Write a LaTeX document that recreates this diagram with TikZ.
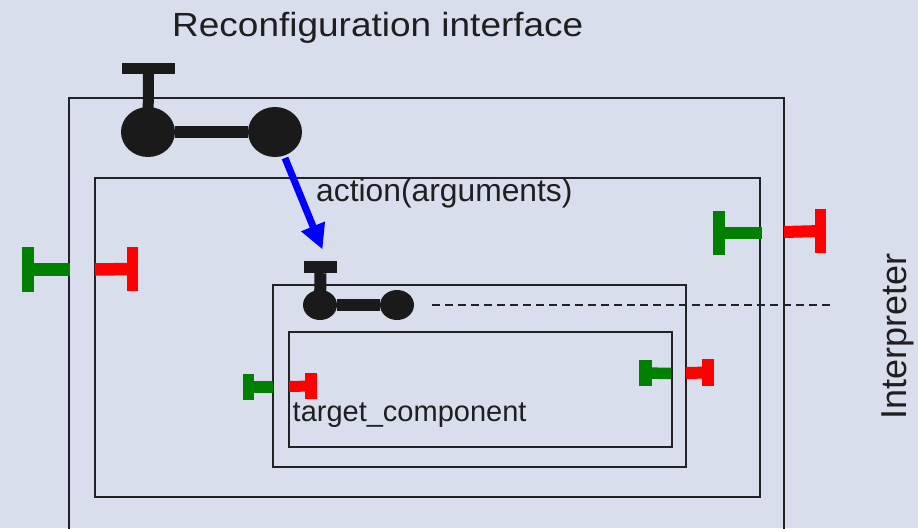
\documentclass[tikz,border=0pt]{standalone}
\usepackage{fontspec}
\setmainfont{Liberation Sans}
\usetikzlibrary{shapes.geometric,arrows.meta}

\definecolor{bgcol}{RGB}{217,222,237}
\definecolor{framecol}{RGB}{34,34,38}
\definecolor{compcol}{RGB}{26,26,26}
\definecolor{provcol}{RGB}{0,128,0}
\definecolor{reqcol}{RGB}{255,0,0}
\definecolor{callcol}{RGB}{0,0,255}

\tikzset{
  frame/.style={draw=framecol, line width=1.8pt, rectangle, inner sep=0pt},
  ball/.style={ellipse, fill=compcol, inner sep=0pt},
  tbar/.style={rectangle, fill=compcol, inner sep=0pt},
  link/.style={draw=compcol, line cap=butt},
  portbar/.style={rectangle, inner sep=0pt, minimum width=12pt},
  label/.style={inner sep=0pt, text=black!88},
}

\begin{document}
\begin{tikzpicture}[x=1pt, y=-1pt]
  \fill[bgcol] (0,0) rectangle (918,528);
  \useasboundingbox (0,0) rectangle (918,528);

  % nested containers
  \node[frame, minimum width=715pt, minimum height=462pt] (outer) at (426.5,329) {};
  \node[frame, minimum width=665pt, minimum height=319pt] (middle) at (427.5,337.5) {};
  \node[frame, minimum width=413pt, minimum height=182pt] (interp) at (479.5,376) {};
  \node[frame, minimum width=383pt, minimum height=115pt] (target) at (480.5,389.5) {};

  % reconfiguration interface component
  \node[tbar, minimum width=53pt, minimum height=11pt] (topT) at (148.5,68.5) {};
  \node[ball, minimum width=54pt, minimum height=50pt] (topL) at (148,132) {};
  \node[ball, minimum width=54pt, minimum height=50pt] (topR) at (275,132) {};
  \draw[link, line width=11pt] (topT.south) -- (topL.center);
  \draw[link, line width=12pt] (topL) -- (topR);

  % interpreter component
  \node[tbar, minimum width=33pt, minimum height=12pt] (subT) at (320.5,267) {};
  \node[ball, minimum width=34pt, minimum height=30pt] (subL) at (320,305) {};
  \node[ball, minimum width=34pt, minimum height=30pt] (subR) at (397,305) {};
  \draw[link, line width=12pt] (subT.south) -- (subL.center);
  \draw[link, line width=12pt] (subL) -- (subR);

  % dashed guide to the Interpreter label
  \coordinate (dashA) at (432,305);
  \coordinate (dashB) at (832,305);
  \draw[framecol, line width=1.5pt, dash pattern=on 8pt off 5pt] (dashA) -- (dashB);

  % reconfiguration call
  \coordinate (callA) at (285,158);
  \coordinate (callB) at (322.5,249.5);
  \draw[callcol, line width=7pt, -{Triangle[length=25pt,width=24pt]}] (callA) -- (callB);

  % provided (green) and required (red) ports
  \node[portbar, fill=provcol, minimum height=45pt] (pOL) at (28,269.5) {};
  \coordinate (pOLe) at (70,269.5);
  \draw[provcol, line width=12.5pt] (pOL.center) -- (pOLe);
  \node[portbar, fill=reqcol, minimum width=11pt, minimum height=44pt] (rOL) at (132.5,269) {};
  \coordinate (rOLe) at (95,269.5);
  \draw[reqcol, line width=12.5pt] (rOL.center) -- (rOLe);

  \node[portbar, fill=provcol, minimum height=44pt] (pOR) at (719,233) {};
  \coordinate (pORe) at (762,233);
  \draw[provcol, line width=12pt] (pOR.center) -- (pORe);
  \node[portbar, fill=reqcol, minimum width=11pt, minimum height=44pt] (rOR) at (820.5,231) {};
  \coordinate (rORe) at (784,232);
  \draw[reqcol, line width=12pt] (rOR.center) -- (rORe);

  \node[portbar, fill=provcol, minimum width=11pt, minimum height=26pt] (pIL) at (248.5,387) {};
  \coordinate (pILe) at (273,387);
  \draw[provcol, line width=11.5pt] (pIL.center) -- (pILe);
  \node[portbar, fill=reqcol, minimum height=26pt] (rIL) at (311,386) {};
  \coordinate (rILe) at (289,386.5);
  \draw[reqcol, line width=11pt] (rIL.center) -- (rILe);

  \node[portbar, fill=provcol, minimum width=12.5pt, minimum height=26pt] (pIR) at (645.5,373) {};
  \coordinate (pIRe) at (671,373.5);
  \draw[provcol, line width=11.5pt] (pIR.center) -- (pIRe);
  \node[portbar, fill=reqcol, minimum height=27pt] (rIR) at (708,372.5) {};
  \coordinate (rIRe) at (686,373);
  \draw[reqcol, line width=12pt] (rIR.center) -- (rIRe);

  % labels
  \node[label, anchor=base west, xscale=1.104] (ttl) at (172,36.5) {\fontsize{33.5}{40}\selectfont Reconfiguration interface};
  \node[label, anchor=base west] (act) at (316,201) {\fontsize{31.8}{38}\selectfont action(arguments)};
  \node[label, anchor=base west] (tgt) at (292.5,421) {\fontsize{29}{35}\selectfont target\_component};
  \node[label, anchor=base west, rotate=90] (itp) at (906,420) {\fontsize{36}{43}\selectfont Interpreter};
\end{tikzpicture}
\end{document}
